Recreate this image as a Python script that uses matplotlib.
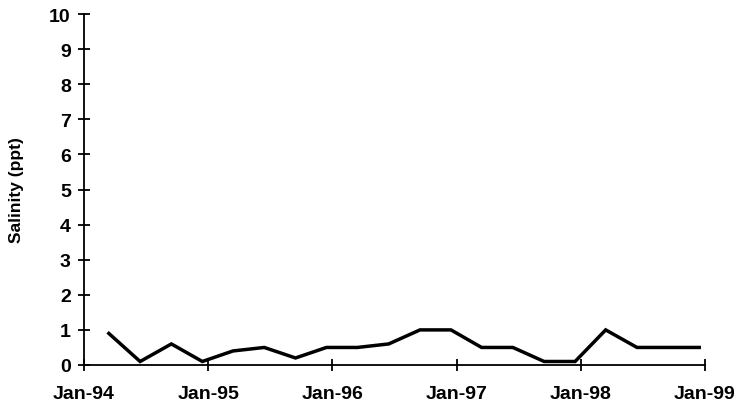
import matplotlib
matplotlib.use("Agg")
import matplotlib.pyplot as plt
import datetime as dt

dates = ["1994-03-15", "1994-06-15", "1994-09-15", "1994-12-15",
         "1995-03-15", "1995-06-15", "1995-09-15", "1995-12-15",
         "1996-03-15", "1996-06-15", "1996-09-15", "1996-12-15",
         "1997-03-15", "1997-06-15", "1997-09-15", "1997-12-15",
         "1998-03-15", "1998-06-15", "1998-09-15", "1998-12-15"]
salinity = [0.9, 0.1, 0.6, 0.1,
            0.4, 0.5, 0.2, 0.5,
            0.5, 0.6, 1.0, 1.0,
            0.5, 0.5, 0.1, 0.1,
            1.0, 0.5, 0.5, 0.5]
xtick_labels = ["Jan-94", "Jan-95", "Jan-96", "Jan-97", "Jan-98", "Jan-99"]
xtick_dates = [dt.date(1994 + i, 1, 1) for i in range(6)]
yticks = list(range(0, 11))

plt.rcParams['font.family'] = ['Liberation Sans', 'DejaVu Sans']

fig = plt.figure(figsize=(7.39, 4.10), dpi=100)
ax = fig.add_axes([84/739, 44/410, (705-84)/739, (366-15)/410])

x = [dt.datetime.strptime(d, "%Y-%m-%d").date() for d in dates]
ax.plot(x, salinity, color='black', linewidth=2.5, solid_joinstyle='miter')

ax.set_xlim(xtick_dates[0], xtick_dates[-1])
ax.set_ylim(0, 10)
ax.set_xticks(xtick_dates)
ax.set_xticklabels(xtick_labels)
ax.set_yticks(yticks)
ax.set_yticklabels([str(v) for v in yticks])

for s in ['top', 'right']:
    ax.spines[s].set_visible(False)
for s in ['left', 'bottom']:
    ax.spines[s].set_linewidth(1.3)

ax.tick_params(axis='both', direction='inout', length=9, width=1.3)
ax.tick_params(axis='x', labelsize=14, pad=10)
ax.tick_params(axis='y', labelsize=14, pad=5)
for lab in ax.get_xticklabels() + ax.get_yticklabels():
    lab.set_fontweight('bold')
ax.set_ylabel("Salinity (ppt)", fontsize=12.5, fontweight='bold', labelpad=18)

fig.savefig("out.png", dpi=100)
